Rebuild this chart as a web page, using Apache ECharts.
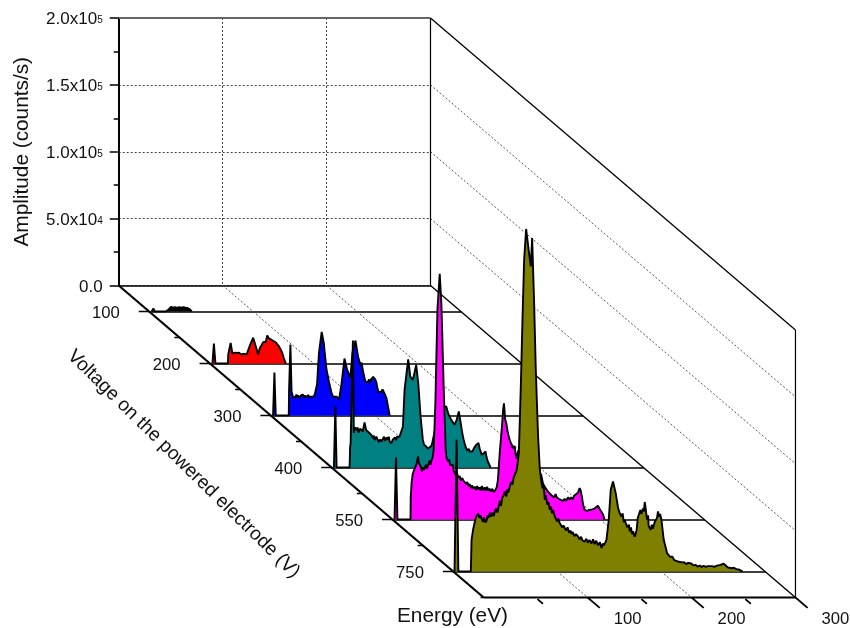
<!DOCTYPE html>
<html><head><meta charset="utf-8">
<style>html,body{margin:0;padding:0;background:#fff}#c{width:850px;height:628px}</style>
<script src="https://cdn.jsdelivr.net/npm/echarts@6/dist/echarts.min.js"></script>
</head><body><div id="c"></div>
<script>
// Spectra as [energy in eV, amplitude in thousands of counts/s].
const voltages = ['100','200','300','400','550','750'];
const energyTicks = ['100','200','300'];
const ampTickMantissa = {0:'0.0',50000:'5.0x10',100000:'1.0x10',150000:'1.5x10',200000:'2.0x10'};
const ampTickExponent = {50000:'4',100000:'5',150000:'5',200000:'5'};
const colors = ['#000000','#ff0000','#0000ff','#008080','#ff00ff','#808000'];

const spectrum100 = [[2.5,0],[4.1,3],[5.5,0],[16,0],[17,1],[19,2.2],[21,4.5],[23,3.7],[25,4.1],[27,3.4],[29,4.1],[31,3.7],[33,4.1],[35,3.7],[37,3.4],[39,2.2],[41,0]];

const spectrum200 = [[2.4,0],[3.8,16.5],[5.3,0],[17.3,0],[17.6,7.5],[19.9,17],[21.6,8.2],[22.5,9.3],[23.5,8.5],[24,9],[25,8],[26,8.8],[27,7.8],[28,9],[29,8.2],[30,7.5],[31,8],[31.7,7.1],[33,8],[34,7.2],[35.3,7.5],[38.5,15],[41.6,21.3],[44.2,13.8],[46.4,7.5],[48,12.7],[50,15.5],[51.2,17.6],[52.9,18.7],[53.8,18],[55.1,23.2],[56.5,21],[57.7,20.2],[59.6,19.4],[61.5,19.1],[63.5,17.2],[65.7,15],[67.8,12],[69.5,9],[71,4.5],[73,0]];

const spectrum300 = [[2.2,0],[3.5,32.2],[4.8,0],[17.3,0],[17.6,18.7],[18.9,53],[20,18],[21.4,13.8],[22.5,15],[23.5,13.5],[24.7,15.7],[25.5,13.5],[26.3,15],[27.9,13.1],[29,15],[30,14],[31,15.7],[32,13.5],[33,15],[34.3,13.5],[35,14.5],[36,15.3],[37,13.8],[37.5,15],[39,14],[40,15],[41,14.2],[42.3,15.7],[43.5,17],[44.5,23.2],[46.4,47],[49,62.5],[51,54.2],[53.6,34.4],[56.1,24.7],[58.4,17.2],[60,14],[61.5,12.7],[63.5,14],[65.7,12],[68,23.2],[70.9,42.6],[73.4,34.4],[76.6,28.4],[78.6,47],[81.5,56],[84,44],[85.6,39.6],[86.5,37],[87.5,39.6],[88.5,34],[89.4,33],[90.5,27],[91.5,25],[92,24.7],[93,26],[93.5,25],[94.5,27],[95.2,24.7],[96.5,27],[97.3,27],[98.5,29],[99.3,28.4],[100.5,27],[101.6,24.7],[102.5,21],[103.6,17.2],[104.5,17],[105.5,18.5],[106.5,18],[107.5,19.5],[109,18.7],[110,15.5],[111.3,13],[114.4,0]];

const spectrum400 = [[2.2,0],[3.6,46],[4.8,0],[17.3,0],[17.8,15],[18.3,18.4],[20.5,95],[21.4,26],[22.5,30],[23.7,28],[25,30],[26,26],[27.5,29],[28.6,29.6],[30,27],[31,31],[31.7,33.7],[33.2,28],[34.9,29.2],[36,26],[37,27],[38.1,24.4],[39.8,22],[40.5,24],[41.3,20.6],[43,23],[44.5,22.4],[45.5,19],[46.8,21],[48,19.5],[49.3,20.2],[50.5,23],[51.5,20],[53,22.5],[54.1,21],[55,23],[55.8,19.5],[57.4,18],[59,21],[60,20],[61,22.5],[62,20.5],[63,23],[65.4,23.2],[67,24.5],[68.6,30.7],[70.2,58],[73.7,80.8],[75.7,68],[78.2,65.5],[81.4,76.7],[83.4,62.8],[85.6,38],[87.8,20.6],[89,17],[91,15.7],[92.5,14],[94.2,14.7],[96,16],[96.8,18.4],[100,30],[105.8,45],[110.3,45.6],[112.5,39.6],[115.1,35.6],[118.3,31.9],[120.5,36],[122.4,41.9],[125.7,25.9],[127,21],[128,18],[129.5,14.2],[131,12.5],[132,14],[133,12],[134.3,13],[135.5,12],[137,14.5],[138,14],[139.1,16.9],[140,15.5],[141.3,18.4],[142.5,14],[144.5,9.4],[146,10],[148.1,12],[149,8],[150.3,4.5],[152.9,0]];

const spectrum550 = [[2,0],[3.4,46.4],[4.8,0],[17.4,0],[17.6,16.9],[18.5,28],[19.5,34],[21.4,38.1],[23,41],[24.6,47.1],[25.5,42],[27.2,39.6],[28.5,36],[29.5,39],[30.4,37.1],[32.3,41],[33.2,38],[34.2,40],[35.5,44],[36.5,41],[37.5,44],[38.6,46],[39.7,52.1],[41.3,86.8],[43.3,156.8],[45.5,183.7],[47.1,161.6],[49.3,99.5],[51.2,52.1],[52,46],[53.5,43.4],[54.5,45],[55.5,40.5],[56.7,39.6],[58,41],[59,36.5],[59.9,37],[61,33],[62,35],[63.5,31],[64.7,32.5],[66,29],[67,31],[68.5,29],[69.5,30],[71,26.5],[72,28],[73.3,25],[74.3,26.5],[75.5,23.5],[76.5,25.5],[78,23],[79.1,24.5],[80.5,22],[81.5,25],[83,22.5],[83.9,24],[85,21.5],[86,25],[87.5,22],[88.7,24],[90,21.5],[91,24.5],[92.5,21.5],[93.5,23],[95,21],[96,23],[97.5,20.5],[99,22.1],[100.3,24],[101.5,29.6],[103.2,49.4],[105.4,69.6],[106.5,82],[107.3,86.8],[108.5,75],[109.6,71.8],[111,65],[112.8,59.5],[114,60],[116,53.1],[117.5,55],[119.2,45.6],[121.4,52.1],[130,45],[141.6,32.2],[143,34],[144.8,26.9],[146,28],[147,24],[148.5,24.5],[149.6,20.9],[151,22],[152.5,18.5],[154.4,19],[155.5,16.5],[157,19],[158.2,16.5],[159.2,17.5],[161,15],[162.5,16],[164,14],[165.7,15.5],[167,14],[169,16.5],[170.5,15],[172.1,16.5],[173.5,15],[175,18],[176.9,17.5],[178.5,20],[180.1,23.5],[181,22],[182.3,17.2],[183.5,11],[184.9,7.2],[187,6.5],[189,7],[190.5,6],[192,7.5],[194.5,8.2],[196,9],[197.7,10.2],[199,8.5],[200.9,7.2],[202.5,4],[204.1,0]];

const spectrum750 = [[1.2,0],[3.2,98.5],[4.9,0],[16.9,0],[17.6,23.7],[19,31],[20.8,37.4],[22,41],[23.9,43.4],[25,40],[26,42],[27.2,39.6],[28.5,37],[29.5,40.5],[31,36.5],[32,38],[33.2,42],[34,40],[35.2,43.9],[36.5,41],[37.5,44],[39,41.5],[40,44.9],[41,47],[42.5,44],[44,50],[44.8,53],[46,49],[47,55],[48.5,57],[49.6,59.8],[51,56],[52,61.5],[53,59],[54.4,63.6],[55.5,67],[57,65],[58,70],[59.2,71.1],[61,76],[63.1,88.3],[65,138.4],[66.6,188.3],[68.2,233.2],[70.1,256.1],[72.7,239.4],[74.6,228.1],[75.9,249.4],[77.8,200.8],[79.4,150.9],[81.6,101],[83.3,76.1],[84.9,66.1],[86,62],[87,64],[88.1,53.6],[89,57],[90.5,50],[91.5,52],[92.9,46.2],[94,48.5],[95,43.5],[96,46],[97.7,41.1],[99,42],[100,37.4],[101,39.5],[102.5,36],[104,37],[105,33],[106,34.5],[107.3,32.5],[108.5,30.5],[110,33],[111.5,29],[113,30.5],[113.7,28],[115,29.5],[116.5,26.5],[118,28],[120.1,26.2],[121.5,24],[123,26],[124.5,23],[126.5,22.4],[128,24.5],[129.5,21.5],[131,23.5],[133,21],[134.5,24],[136,20.5],[137.5,23],[139.3,19.5],[141,22],[142.6,17.5],[144,21],[145,19.5],[147.4,23.7],[149.6,38.7],[151.5,61.1],[153.7,67.3],[156.3,58.6],[158.6,47.4],[160,44],[161.8,41],[163,43.5],[164,37],[165,38.5],[166.5,35],[167.5,33],[169,35],[169.8,30],[171,33],[172,28],[173,30],[174.6,26],[175.5,28],[176.5,31.5],[177.5,40],[178.5,41.1],[180,46],[181,43],[182.5,47],[183.5,45],[184.2,52],[185,48],[186.4,38.7],[187.5,42],[188,34],[190,31.2],[191,35],[192,32],[193.8,37],[195,36],[196,40],[197,45],[198,41],[199,43],[200.3,38.7],[202.5,23.7],[205.7,13.8],[207,15],[208.5,11],[209.9,10],[211,11],[212.5,8.5],[214,9.5],[216,7.5],[217.9,8],[220,6.8],[222,7],[224,5.5],[226,6.5],[227.5,5.5],[229,6],[231,4.6],[233,5],[235,3.7],[237,4.4],[239,3.5],[241,4.2],[243,3.5],[245,4],[246.7,3.6],[249,4],[251,3.5],[253,4.2],[254.7,4.3],[257,5],[260.2,5.8],[262,4.5],[264.3,3],[266,3.2],[268,2.4],[270,2.8],[272.4,1.8],[275,1.5],[277.2,0.5],[278.5,0]];

const spectra = [spectrum100,spectrum200,spectrum300,spectrum400,spectrum550,spectrum750];

// Oblique projection: one depth unit moves the plane by this many pixels.
const wall = {left:118.7, top:18, width:311.8, height:267.5};
const depthDX = 60.83, depthDY = 52;

const grids=[{left:wall.left,top:wall.top,width:wall.width,height:wall.height}];
const xAxes=[{gridIndex:0,type:'value',min:0,max:300,interval:100,
  axisLine:{show:true,onZero:false,lineStyle:{color:'#000',width:1.5}},axisTick:{show:false},axisLabel:{show:false},
  splitLine:{show:true,lineStyle:{color:'#444',type:[2,2],width:1}}}];
const yAxes=[{gridIndex:0,type:'value',min:0,max:200000,interval:50000,
  name:'Amplitude (counts/s)',nameLocation:'middle',nameRotate:90,nameGap:86,
  nameTextStyle:{fontFamily:'Liberation Sans',fontSize:20.8,color:'#111'},
  axisLine:{show:true,lineStyle:{color:'#000',width:2}},
  axisTick:{show:true,length:9,lineStyle:{color:'#000',width:1.5}},
  minorTick:{show:true,splitNumber:2,length:5,lineStyle:{color:'#000',width:1.5}},
  splitLine:{show:true,lineStyle:{color:'#444',type:[2,2],width:1}},
  axisLabel:{margin:16,fontFamily:'Liberation Sans',
    formatter:v=>{const m=ampTickMantissa[v],e=ampTickExponent[v];return e?`{a|${m}}{s|${e}}`:`{z|${m}}`;},
    rich:{a:{fontFamily:'Liberation Sans',fontSize:17,color:'#111',lineHeight:20,verticalAlign:'bottom',padding:[8,0,0,0]},
          s:{fontFamily:'Liberation Sans',fontSize:10,color:'#111',lineHeight:11,verticalAlign:'top',padding:[7.5,0,0,0]},
          z:{fontFamily:'Liberation Sans',fontSize:17,color:'#111',lineHeight:20,padding:[4,0,0,0]}}}}];
const series=[];
const specHeight = wall.height*1.5;
voltages.forEach((v,i)=>{
  const baseY = wall.top+wall.height+(i+.5)*depthDY;
  grids.push({left:wall.left+(i+.5)*depthDX,top:baseY-specHeight,width:wall.width,height:specHeight});
  xAxes.push({gridIndex:i+1,type:'value',min:0,max:300,axisLine:{show:true,onZero:false,lineStyle:{color:'#000',width:1.5}},
    axisTick:{show:false},axisLabel:{show:false},splitLine:{show:false}});
  yAxes.push({gridIndex:i+1,type:'value',min:0,max:300000,show:false,splitLine:{show:false}});
  series.push({type:'line',name:v+' V',xAxisIndex:i+1,yAxisIndex:i+1,z:10+i,showSymbol:false,silent:true,
    lineStyle:{color:'#000',width:1.9},itemStyle:{color:colors[i]},areaStyle:{color:colors[i],opacity:1},
    data:spectra[i].map(p=>[p[0],p[1]*1000])});
});

// Frame of the box: rows are [energy,depth,amp, energy,depth,amp, lineWidth, grey]
const D=voltages.length, A=200000;
const solidSegs=[
  [300,0,A,300,0,0,1.2],
  [0,0,0,0,D,0,2.2],[300,0,0,300,D,0,1.4],[300,0,A,300,D,A,1.3],
  [300,D,A,300,D,0,1.2],[0,D,0,300,D,0,2],[-3,D,0,0,D,0,1.5]];
voltages.forEach((v,i)=>solidSegs.push([-10,i+.5,0,0,i+.5,0,1.5]));
[1,2,3,4,5].forEach(d=>solidSegs.push([-5,d,0,0,d,0,1.5]));
[100,200,300].forEach(e=>solidSegs.push([e,D,0,e,D+.2,0,1.8]));
[50,150,250].forEach(e=>solidSegs.push([e,D+.03,0,e,D+.12,0,1.8]));
const topEdgeSegs=[[0,0,A,300,0,A,2]];
const dottedSegs=[];
[100,200].forEach(e=>dottedSegs.push([e,0,0,e,D,0,1]));
[50000,100000,150000].forEach(a=>dottedSegs.push([300,0,a,300,D,a,1]));

function proj(api,e,d,a){const p=api.coord([e,a]);return [p[0]+d*depthDX,p[1]+d*depthDY];}
function segRender(stroke,dash){return (params,api)=>{
  const p=proj(api,api.value(0),api.value(1),api.value(2)),q=proj(api,api.value(3),api.value(4),api.value(5));
  return {type:'line',shape:{x1:p[0],y1:p[1],x2:q[0],y2:q[1]},style:{stroke:stroke,lineWidth:api.value(6),lineDash:dash}};};}
series.push({type:'custom',xAxisIndex:0,yAxisIndex:0,z:1,silent:true,clip:false,renderItem:segRender('#555',[2,2]),data:dottedSegs,encode:{x:0,y:2}});
series.push({type:'custom',xAxisIndex:0,yAxisIndex:0,z:2,silent:true,clip:false,renderItem:segRender('#000',null),data:solidSegs,encode:{x:0,y:2}});
series.push({type:'custom',xAxisIndex:0,yAxisIndex:0,z:2,silent:true,clip:false,renderItem:segRender('#666',null),data:topEdgeSegs,encode:{x:0,y:2}});

// Tick label rows: [energy,depth,text,align]
const labelRows=[];
voltages.forEach((v,i)=>labelRows.push([-30,i+.53,v,'right']));
energyTicks.forEach(t=>labelRows.push([+t+13.3,D+.43,t,'center']));
series.push({type:'custom',xAxisIndex:0,yAxisIndex:0,z:20,silent:true,clip:false,data:labelRows,encode:{x:0,y:1},
  renderItem:(params,api)=>{const r=labelRows[params.dataIndex];const p=proj(api,r[0],r[1],0);
    return {type:'text',x:p[0],y:p[1],style:{text:r[2],fontFamily:'Liberation Sans',fontSize:16.7,fill:'#111',align:r[3],verticalAlign:'middle'}};}});

const chart=echarts.init(document.getElementById('c'),null,{renderer:'canvas'});
chart.setOption({animation:false,backgroundColor:'#fff',grid:grids,xAxis:xAxes,yAxis:yAxes,series:series,
  graphic:[
    {type:'text',x:183.5,y:464,rotation:-0.775,style:{text:'Voltage on the powered electrode (V)',fontFamily:'Liberation Sans',fontSize:19.2,fill:'#111',align:'center',verticalAlign:'middle'}},
    {type:'text',x:397,y:616.5,style:{text:'Energy (eV)',fontFamily:'Liberation Sans',fontSize:20.8,fill:'#111',align:'left',verticalAlign:'middle'}}
  ]});
</script></body></html>
